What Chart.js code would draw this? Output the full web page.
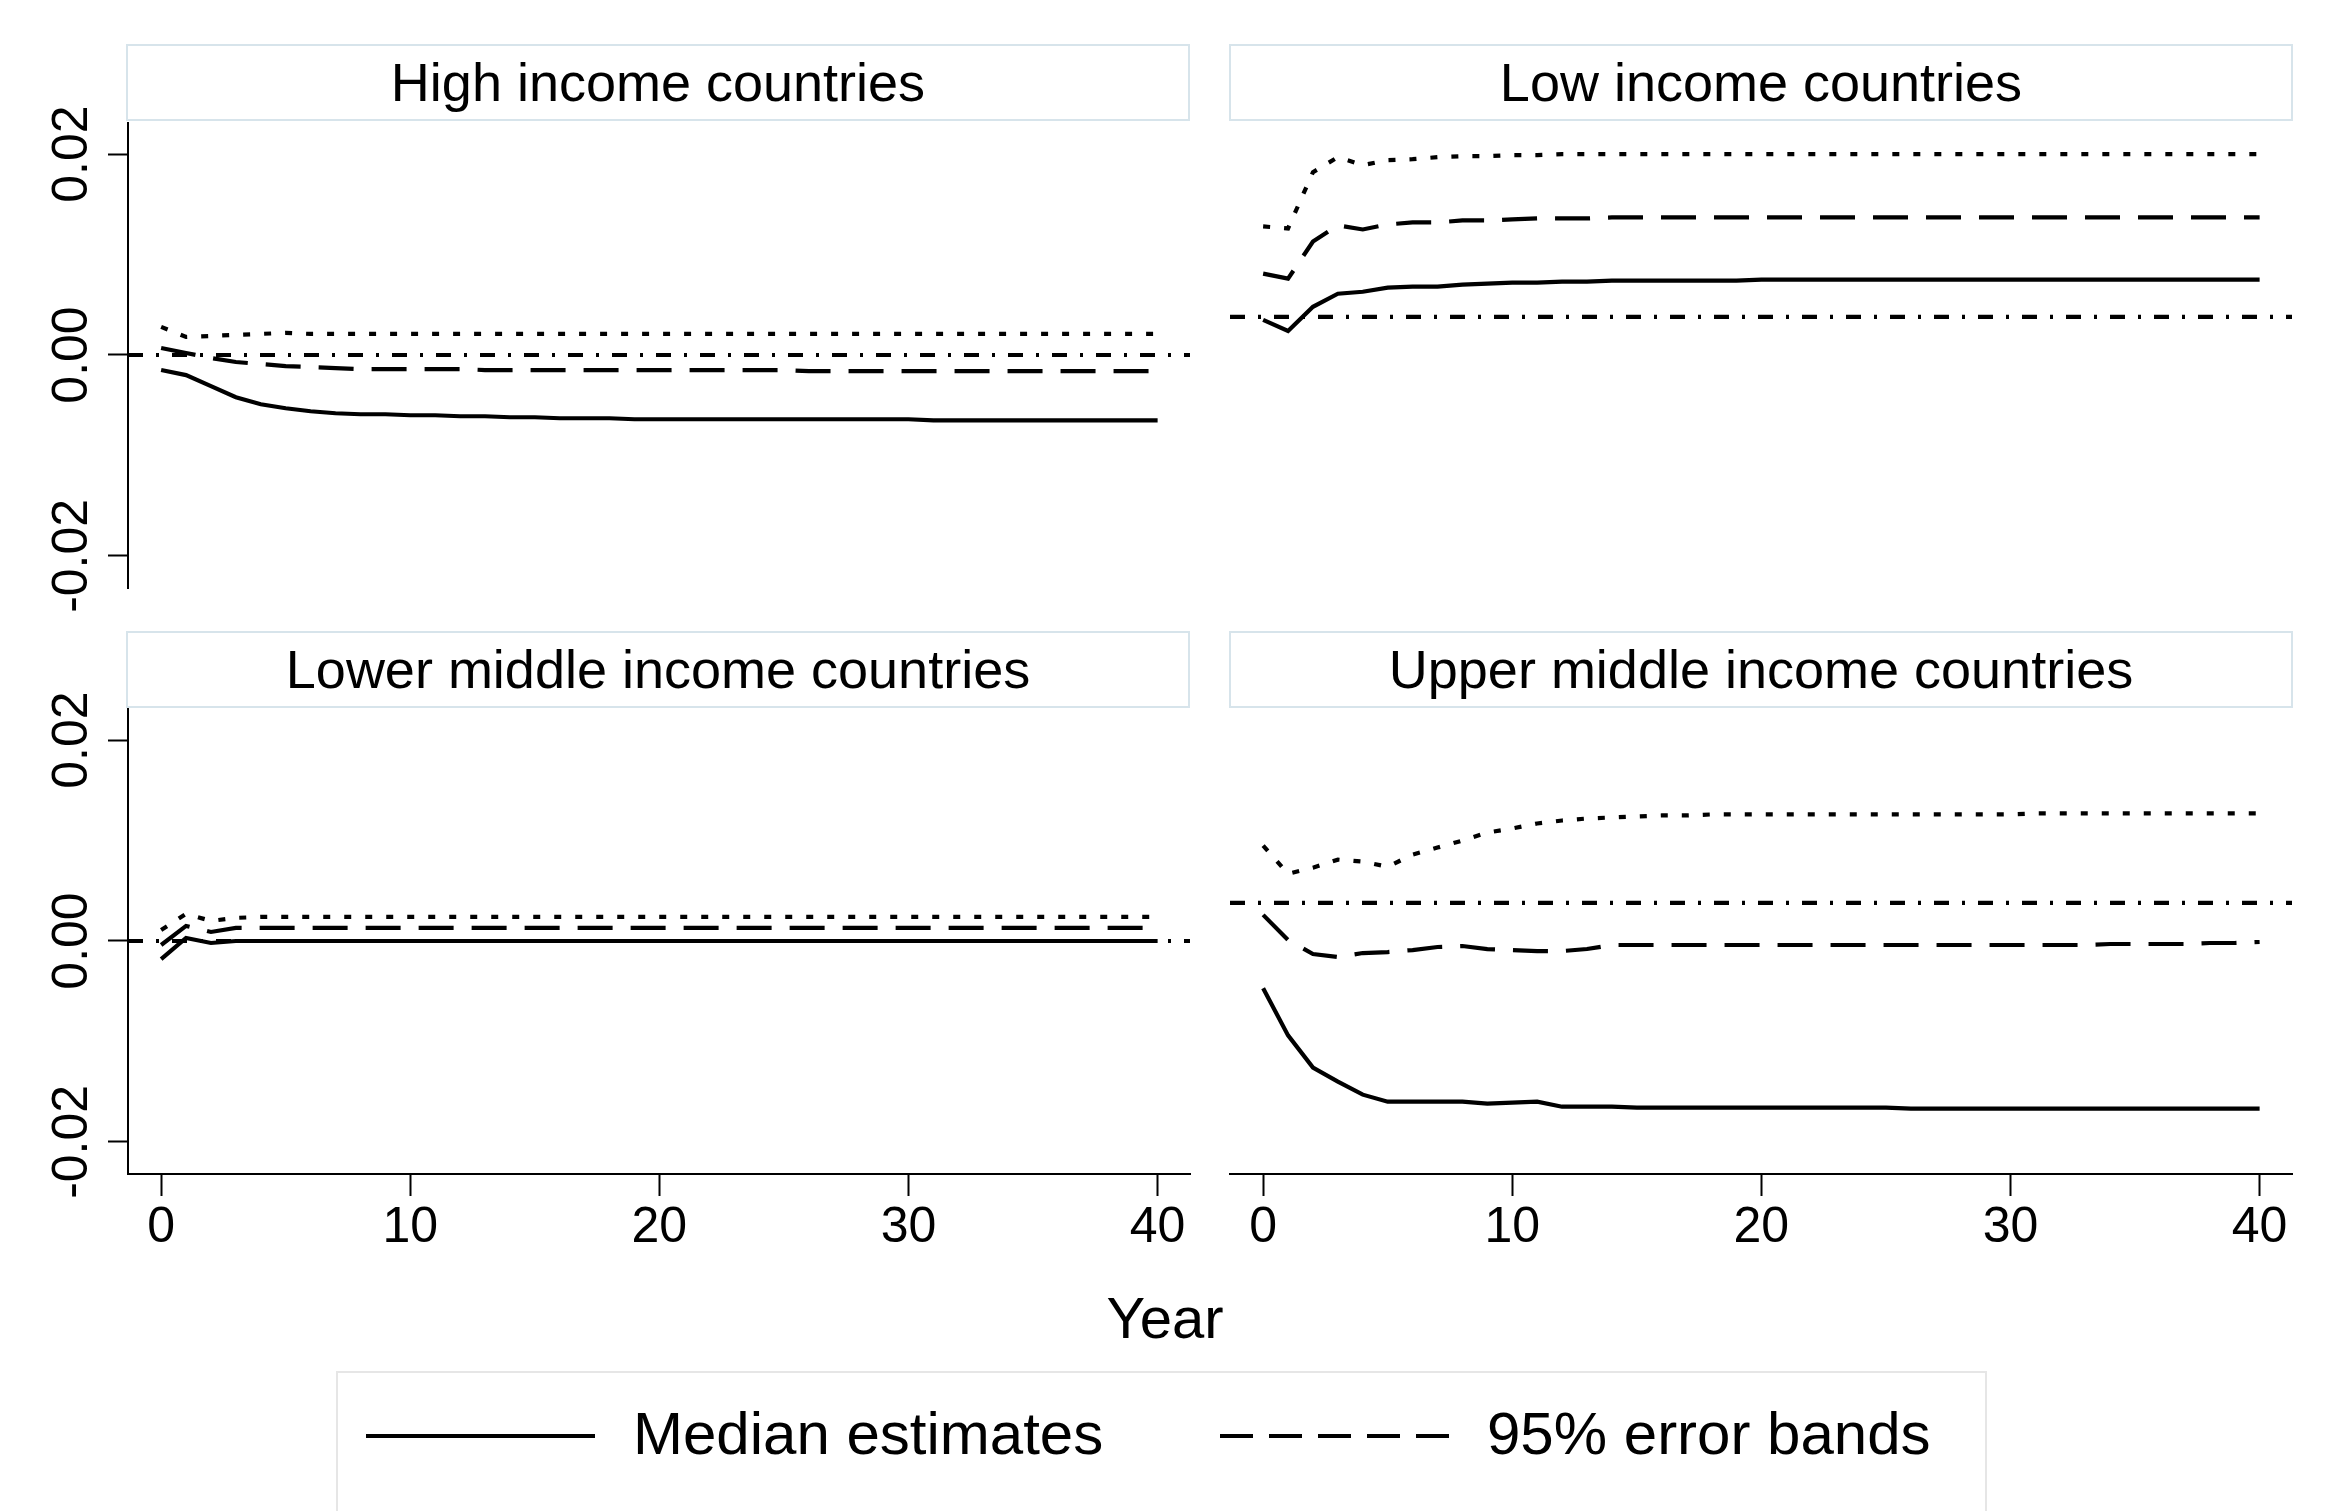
<!DOCTYPE html>
<html>
<head>
<meta charset="utf-8">
<script src="https://cdn.jsdelivr.net/npm/chart.js@4.4.1/dist/chart.umd.min.js"></script>
<style>
html,body{margin:0;padding:0;background:#fff;width:2334px;height:1511px;overflow:hidden;
  font-family:"Liberation Sans",Arial,Helvetica,sans-serif;color:#000;}
.hdr{position:absolute;box-sizing:border-box;border:2px solid #d7e4eb;font-size:54px;
  display:flex;align-items:center;justify-content:center;white-space:nowrap;padding-bottom:2px;}
canvas{position:absolute;}
.txt{position:absolute;white-space:nowrap;}
#legend{position:absolute;left:336px;top:1371px;width:1651px;height:200px;box-sizing:border-box;
  border:2px solid #e6e6e6;}
</style>
</head>
<body>
<div class="hdr" id="h0" style="left:126px;top:44px;width:1064px;height:77px;"></div>
<div class="hdr" id="h1" style="left:1229px;top:44px;width:1064px;height:77px;"></div>
<div class="hdr" id="h2" style="left:126px;top:631px;width:1064px;height:77px;"></div>
<div class="hdr" id="h3" style="left:1229px;top:631px;width:1064px;height:77px;"></div>

<canvas id="c0" width="1200" height="560" style="left:0px;top:80px;width:1200px;height:560px;"></canvas>
<canvas id="c1" width="1082" height="560" style="left:1220px;top:80px;width:1082px;height:560px;"></canvas>
<canvas id="c2" width="1200" height="620" style="left:0px;top:670px;width:1200px;height:620px;"></canvas>
<canvas id="c3" width="1082" height="620" style="left:1220px;top:670px;width:1082px;height:620px;"></canvas>

<div class="txt" id="xtitle" style="left:965px;width:400px;text-align:center;top:1283px;height:70px;line-height:70px;font-size:58px;"></div>

<div id="legend"></div>
<svg style="position:absolute;left:0;top:0;" width="2334" height="1511">
  <line x1="366" y1="1436" x2="595" y2="1436" stroke="#000" stroke-width="4"/>
  <line x1="1220" y1="1436" x2="1449" y2="1436" stroke="#000" stroke-width="4" stroke-dasharray="33 16"/>
</svg>
<div class="txt" id="leg0" style="left:633px;top:1399px;height:70px;line-height:70px;font-size:60px;"></div>
<div class="txt" id="leg1" style="left:1487px;top:1399px;height:70px;line-height:70px;font-size:60px;"></div>

<script>
// ---------- data ----------
const YEARS = [0,1,2,3,4,5,6,7,8,9,10,11,12,13,14,15,16,17,18,19,20,
               21,22,23,24,25,26,27,28,29,30,31,32,33,34,35,36,37,38,39,40];
const TITLES = ["High income countries","Low income countries",
                "Lower middle income countries","Upper middle income countries"];
const X_TITLE = "Year";
const LEGEND_LABELS = ["Median estimates","95% error bands"];
const X_TICKS = [0,10,20,30,40];
const X_TICK_LABELS = ["0","10","20","30","40"];
const Y_TICKS = [-0.02,0,0.02];
const Y_TICK_LABELS = ["-0.02","0.00","0.02"];
const X_MIN = -1.33, X_MAX = 41.3;
const Y_MIN = -0.0232, Y_MAX = 0.0231;
const REF_LEVELS = [0, 0.0038, 0, 0.0038];

// High income countries
const HI_MED = [-0.0015,-0.0020,-0.0031,-0.0042,-0.0049,-0.0053,-0.0056,-0.0058,-0.0059,-0.0059,
  -0.0060,-0.0060,-0.0061,-0.0061,-0.0062,-0.0062,-0.0063,-0.0063,-0.0063,-0.0064,
  -0.0064,-0.0064,-0.0064,-0.0064,-0.0064,-0.0064,-0.0064,-0.0064,-0.0064,-0.0064,
  -0.0064,-0.0065,-0.0065,-0.0065,-0.0065,-0.0065,-0.0065,-0.0065,-0.0065,-0.0065,-0.0065];
const HI_LO = [0.0007,0.0002,-0.0003,-0.0007,-0.0009,-0.0011,-0.0012,-0.0013,-0.0014,-0.0014,
  -0.0014,-0.0014,-0.0014,-0.0015,-0.0015,-0.0015,-0.0015,-0.0015,-0.0015,-0.0015,
  -0.0015,-0.0015,-0.0015,-0.0015,-0.0015,-0.0015,-0.0016,-0.0016,-0.0016,-0.0016,
  -0.0016,-0.0016,-0.0016,-0.0016,-0.0016,-0.0016,-0.0016,-0.0016,-0.0016,-0.0016,-0.0016];
const HI_HI = [0.0028,0.0018,0.0019,0.0020,0.0021,0.0022,0.0021,0.0021,0.0021,0.0021,
  0.0021,0.0021,0.0021,0.0021,0.0021,0.0021,0.0021,0.0021,0.0021,0.0021,
  0.0021,0.0021,0.0021,0.0021,0.0021,0.0021,0.0021,0.0021,0.0021,0.0021,
  0.0021,0.0021,0.0021,0.0021,0.0021,0.0021,0.0021,0.0021,0.0021,0.0021,0.0021];

// Low income countries
const LI_MED = [0.0035,0.0024,0.0048,0.0061,0.0063,0.0067,0.0068,0.0068,0.0070,0.0071,
  0.0072,0.0072,0.0073,0.0073,0.0074,0.0074,0.0074,0.0074,0.0074,0.0074,
  0.0075,0.0075,0.0075,0.0075,0.0075,0.0075,0.0075,0.0075,0.0075,0.0075,
  0.0075,0.0075,0.0075,0.0075,0.0075,0.0075,0.0075,0.0075,0.0075,0.0075,0.0075];
const LI_LO = [0.0081,0.0076,0.0113,0.0129,0.0125,0.0130,0.0132,0.0132,0.0134,0.0134,
  0.0135,0.0136,0.0136,0.0136,0.0137,0.0137,0.0137,0.0137,0.0137,0.0137,
  0.0137,0.0137,0.0137,0.0137,0.0137,0.0137,0.0137,0.0137,0.0137,0.0137,
  0.0137,0.0137,0.0137,0.0137,0.0137,0.0137,0.0137,0.0137,0.0137,0.0137,0.0137];
const LI_HI = [0.0128,0.0126,0.0182,0.0197,0.0189,0.0194,0.0195,0.0197,0.0198,0.0198,
  0.0199,0.0199,0.0200,0.0200,0.0200,0.0200,0.0200,0.0200,0.0200,0.0200,
  0.0200,0.0200,0.0200,0.0200,0.0200,0.0200,0.0200,0.0200,0.0200,0.0200,
  0.0200,0.0200,0.0200,0.0200,0.0200,0.0200,0.0200,0.0200,0.0200,0.0200,0.0200];

// Lower middle income countries
const LM_MED = [-0.0018,0.0003,-0.0002,0.0000,0.0000,0.0000,0.0000,0.0000,0.0000,0.0000,
  0.0000,0.0000,0.0000,0.0000,0.0000,0.0000,0.0000,0.0000,0.0000,0.0000,
  0.0000,0.0000,0.0000,0.0000,0.0000,0.0000,0.0000,0.0000,0.0000,0.0000,
  0.0000,0.0000,0.0000,0.0000,0.0000,0.0000,0.0000,0.0000,0.0000,0.0000,0.0000];
const LM_LO = [-0.0004,0.0015,0.0009,0.0013,0.0013,0.0013,0.0013,0.0013,0.0013,0.0013,
  0.0013,0.0013,0.0013,0.0013,0.0013,0.0013,0.0013,0.0013,0.0013,0.0013,
  0.0013,0.0013,0.0013,0.0013,0.0013,0.0013,0.0013,0.0013,0.0013,0.0013,
  0.0013,0.0013,0.0013,0.0013,0.0013,0.0013,0.0013,0.0013,0.0013,0.0013,0.0013];
const LM_HI = [0.0011,0.0027,0.0020,0.0023,0.0024,0.0024,0.0024,0.0024,0.0024,0.0024,
  0.0024,0.0024,0.0024,0.0024,0.0024,0.0024,0.0024,0.0024,0.0024,0.0024,
  0.0024,0.0024,0.0024,0.0024,0.0024,0.0024,0.0024,0.0024,0.0024,0.0024,
  0.0024,0.0024,0.0024,0.0024,0.0024,0.0024,0.0024,0.0024,0.0024,0.0024,0.0024];

// Upper middle income countries
const UM_MED = [-0.0047,-0.0094,-0.0126,-0.0140,-0.0153,-0.0160,-0.0160,-0.0160,-0.0160,-0.0162,
  -0.0161,-0.0160,-0.0165,-0.0165,-0.0165,-0.0166,-0.0166,-0.0166,-0.0166,-0.0166,
  -0.0166,-0.0166,-0.0166,-0.0166,-0.0166,-0.0166,-0.0167,-0.0167,-0.0167,-0.0167,
  -0.0167,-0.0167,-0.0167,-0.0167,-0.0167,-0.0167,-0.0167,-0.0167,-0.0167,-0.0167,-0.0167];
const UM_LO = [0.0026,0.0001,-0.0013,-0.0016,-0.0012,-0.0011,-0.0009,-0.0006,-0.0005,-0.0008,
  -0.0009,-0.0010,-0.0010,-0.0008,-0.0004,-0.0004,-0.0004,-0.0004,-0.0004,-0.0004,
  -0.0004,-0.0004,-0.0004,-0.0004,-0.0004,-0.0004,-0.0004,-0.0004,-0.0004,-0.0004,
  -0.0004,-0.0004,-0.0004,-0.0004,-0.0003,-0.0003,-0.0003,-0.0003,-0.0002,-0.0002,-0.0001];
const UM_HI = [0.0095,0.0067,0.0073,0.0081,0.0079,0.0074,0.0086,0.0093,0.0100,0.0108,
  0.0112,0.0117,0.0120,0.0122,0.0123,0.0124,0.0125,0.0125,0.0126,0.0126,
  0.0126,0.0126,0.0126,0.0126,0.0126,0.0126,0.0126,0.0126,0.0126,0.0126,
  0.0126,0.0127,0.0127,0.0127,0.0127,0.0127,0.0127,0.0127,0.0127,0.0127,0.0127];

// ---------- layout / style ----------
const FONT = '"Liberation Sans", Arial, Helvetica, sans-serif';
const LINE_W = 4.2;
const DASH_SOLID = [], DASH_BAND = [35,18], DASH_DOT = [7,14], DASH_REF = [15,13,3,13];

TITLES.forEach((t,i)=>{ document.getElementById('h'+i).textContent = t; });
document.getElementById('xtitle').textContent = X_TITLE;
document.getElementById('leg0').textContent = LEGEND_LABELS[0];
document.getElementById('leg1').textContent = LEGEND_LABELS[1];

const yLabelPlugin = {
  id: 'yLabels',
  afterDraw(chart, args, opts) {
    if (!opts || !opts.show) return;
    const ctx = chart.ctx, ys = chart.scales.y;
    ctx.save();
    ctx.fillStyle = '#000';
    ctx.font = '50px ' + FONT;
    ctx.textAlign = 'center';
    ctx.textBaseline = 'alphabetic';
    Y_TICKS.forEach((v, i) => {
      const py = ys.getPixelForValue(v);
      ctx.save();
      ctx.translate(opts.x, py);
      ctx.rotate(-Math.PI / 2);
      ctx.fillText(Y_TICK_LABELS[i], 0, 0);
      ctx.restore();
    });
    ctx.restore();
  }
};

function lineDS(vals, dash) {
  return {
    data: YEARS.map((x, i) => ({x: x, y: vals[i]})),
    borderColor: '#000', borderWidth: LINE_W, borderDash: dash,
    pointRadius: 0, tension: 0, fill: false
  };
}
function refDS(level) {
  return {
    data: [{x: X_MIN, y: level}, {x: X_MAX, y: level}],
    borderColor: '#000', borderWidth: LINE_W, borderDash: DASH_REF,
    pointRadius: 0, tension: 0, fill: false
  };
}

const PANELS = [
  {canvas:'c0', med:HI_MED, lo:HI_LO, hi:HI_HI, ref:REF_LEVELS[0], yAxis:true,  xAxis:false,
   pad:{left:108,right:10,top:43,bottom:52}},
  {canvas:'c1', med:LI_MED, lo:LI_LO, hi:LI_HI, ref:REF_LEVELS[1], yAxis:false, xAxis:false,
   pad:{left:10,right:10,top:43,bottom:52}},
  {canvas:'c2', med:LM_MED, lo:LM_LO, hi:LM_HI, ref:REF_LEVELS[2], yAxis:true,  xAxis:true,
   pad:{left:108,right:10,top:39,bottom:26}},
  {canvas:'c3', med:UM_MED, lo:UM_LO, hi:UM_HI, ref:REF_LEVELS[3], yAxis:false, xAxis:true,
   pad:{left:10,right:10,top:39,bottom:26}}
];

PANELS.forEach(p => {
  const yScale = {
    type: 'linear', min: Y_MIN, max: Y_MAX, display: p.yAxis,
    afterBuildTicks: s => { s.ticks = Y_TICKS.map(v => ({value: v})); },
    ticks: {display: false},
    grid: {drawOnChartArea: false, drawTicks: true, tickLength: 20, tickWidth: 2, tickColor: '#000'},
    border: {display: true, width: 2, color: '#000'}
  };
  if (p.yAxis) yScale.afterFit = s => { s.width = 20; };
  const xScale = {
    type: 'linear', min: X_MIN, max: X_MAX, display: p.xAxis,
    afterBuildTicks: s => { s.ticks = X_TICKS.map(v => ({value: v})); },
    ticks: {
      font: {size: 50, family: FONT}, color: '#000', padding: 2,
      maxRotation: 0, minRotation: 0, autoSkip: false,
      callback: v => X_TICK_LABELS[X_TICKS.indexOf(v)]
    },
    grid: {drawOnChartArea: false, drawTicks: true, tickLength: 22, tickWidth: 2, tickColor: '#000'},
    border: {display: true, width: 2, color: '#000'}
  };
  if (p.xAxis) xScale.afterFit = s => { s.height = 90; };

  new Chart(document.getElementById(p.canvas), {
    type: 'line',
    data: {
      datasets: [
        lineDS(p.med, DASH_SOLID),
        lineDS(p.lo, DASH_BAND),
        lineDS(p.hi, DASH_DOT),
        refDS(p.ref)
      ]
    },
    options: {
      responsive: false, animation: false, devicePixelRatio: window.devicePixelRatio || 1,
      layout: {padding: p.pad},
      plugins: {legend: {display: false}, tooltip: {enabled: false},
                yLabels: {show: p.yAxis, x: 87}},
      scales: {x: xScale, y: yScale}
    },
    plugins: [yLabelPlugin]
  });
});
</script>
</body>
</html>
